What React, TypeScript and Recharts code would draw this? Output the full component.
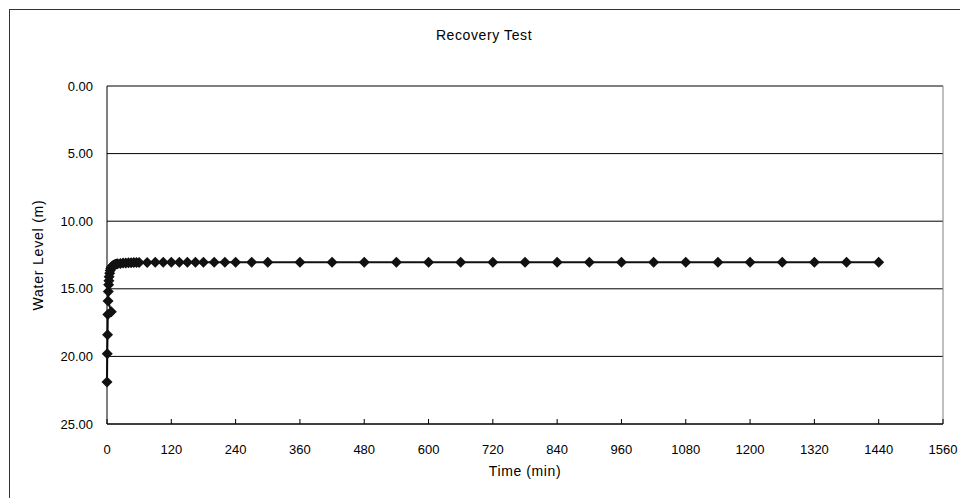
import React from 'react';
import { LineChart, Line, XAxis, YAxis, CartesianGrid, ReferenceLine } from 'recharts';

// elapsed time since pump stop (min)
const timeMin = [
    0, 0.5, 1, 1.5, 8, 2, 2.5, 3, 3.5, 4, 5, 6, 7, 8, 9, 10, 12, 14, 16, 18, 20,
    25, 30, 35, 40, 45, 50, 55, 60, 75, 90, 105, 120, 135, 150, 165, 180, 200, 220,
    240, 270, 300, 360, 420, 480, 540, 600, 660, 720, 780, 840, 900, 960, 1020,
    1080, 1140, 1200, 1260, 1320, 1380, 1440,
];

// water level below top (m)
const waterLevel = [
    21.9, 19.8, 18.4, 16.9, 16.7, 15.9, 15.2, 14.7, 14.4, 14.1, 13.85, 13.65, 13.5,
    13.42, 13.36, 13.32, 13.26, 13.22, 13.19, 13.17, 13.15, 13.12, 13.1, 13.09,
    13.08, 13.07, 13.06, 13.06, 13.05, 13.05, 13.04, 13.04, 13.04, 13.04, 13.03,
    13.03, 13.03, 13.03, 13.03, 13.03, 13.03, 13.03, 13.03, 13.03, 13.03, 13.03,
    13.03, 13.03, 13.03, 13.03, 13.03, 13.03, 13.03, 13.03, 13.03, 13.03, 13.03,
    13.03, 13.03, 13.03, 13.03,
];

const xTicks = [0, 120, 240, 360, 480, 600, 720, 840, 960, 1080, 1200, 1320, 1440, 1560];
const yTicks = [0, 5, 10, 15, 20, 25];

const data = timeMin.map((t, i) => ({ t, level: waterLevel[i] }));

const FONT = '"Liberation Sans", Arial, sans-serif';

const Diamond = (props: any) => {
    const { cx, cy } = props;
    if (cx == null || cy == null) return null;
    const r = 5.5;
    return (
        <polygon
            points={`${cx},${cy - r} ${cx + r},${cy} ${cx},${cy + r} ${cx - r},${cy}`}
            fill="#111"
            stroke="none"
        />
    );
};

const TimeTick = (props: any) => {
    const { x, y, payload } = props;
    return (
        <g>
            <line x1={x} y1={y} x2={x} y2={y - 5} stroke="#000" strokeWidth={1} />
            <text x={x} y={y + 30} textAnchor="middle" fontSize={13} fill="#000" fontFamily={FONT}>
                {payload.value}
            </text>
        </g>
    );
};

const App: React.FC = () => {
    return (
        <div style={{ position: 'relative', width: 960, height: 490, overflow: 'hidden', fontFamily: FONT }}>
            <div
                style={{
                    position: 'absolute',
                    left: 1,
                    top: 1,
                    width: 1100,
                    height: 700,
                    border: '1px solid #333',
                    boxSizing: 'border-box',
                }}
            />
            <div
                style={{
                    position: 'absolute',
                    left: 0,
                    top: 19,
                    width: 952,
                    textAlign: 'center',
                    fontSize: 14,
                    letterSpacing: 0.6,
                    color: '#000',
                }}
            >
                Recovery Test
            </div>
            <div
                style={{
                    position: 'absolute',
                    left: 30 - 100,
                    top: 247 - 9,
                    width: 200,
                    height: 18,
                    lineHeight: '18px',
                    textAlign: 'center',
                    fontSize: 14,
                    letterSpacing: 0.8,
                    color: '#000',
                    transform: 'rotate(-90deg)',
                }}
            >
                Water Level (m)
            </div>
            <div style={{ position: 'absolute', left: 0, top: 0 }}>
                <LineChart
                    width={960}
                    height={490}
                    data={data}
                    margin={{ top: 78, right: 25, bottom: 18, left: 0 }}
                >
                    <CartesianGrid vertical={false} stroke="#000" strokeWidth={1} />
                    <XAxis
                        dataKey="t"
                        type="number"
                        domain={[0, 1560]}
                        ticks={xTicks}
                        interval={0}
                        height={56}
                        stroke="#000"
                        tickSize={0}
                        tickMargin={0}
                        tick={<TimeTick />}
                        label={{
                            value: 'Time (min)',
                            position: 'insideBottom',
                            offset: 4,
                            fontSize: 14,
                            letterSpacing: 0.6,
                            fill: '#000',
                            fontFamily: FONT,
                        }}
                    />
                    <YAxis
                        type="number"
                        reversed
                        domain={[0, 25]}
                        ticks={yTicks}
                        interval={0}
                        width={99}
                        stroke="#000"
                        tickLine={false}
                        tickSize={0}
                        tickMargin={14}
                        tickFormatter={(v: number) => v.toFixed(2)}
                        tick={{ fontSize: 13, fill: '#000', fontFamily: FONT }}
                    />
                    <ReferenceLine x={1560} stroke="#808080" strokeWidth={1} />
                    <Line
                        type="linear"
                        dataKey="level"
                        stroke="#111"
                        strokeWidth={2}
                        dot={<Diamond />}
                        activeDot={false}
                        isAnimationActive={false}
                    />
                </LineChart>
            </div>
        </div>
    );
};

export default App;
